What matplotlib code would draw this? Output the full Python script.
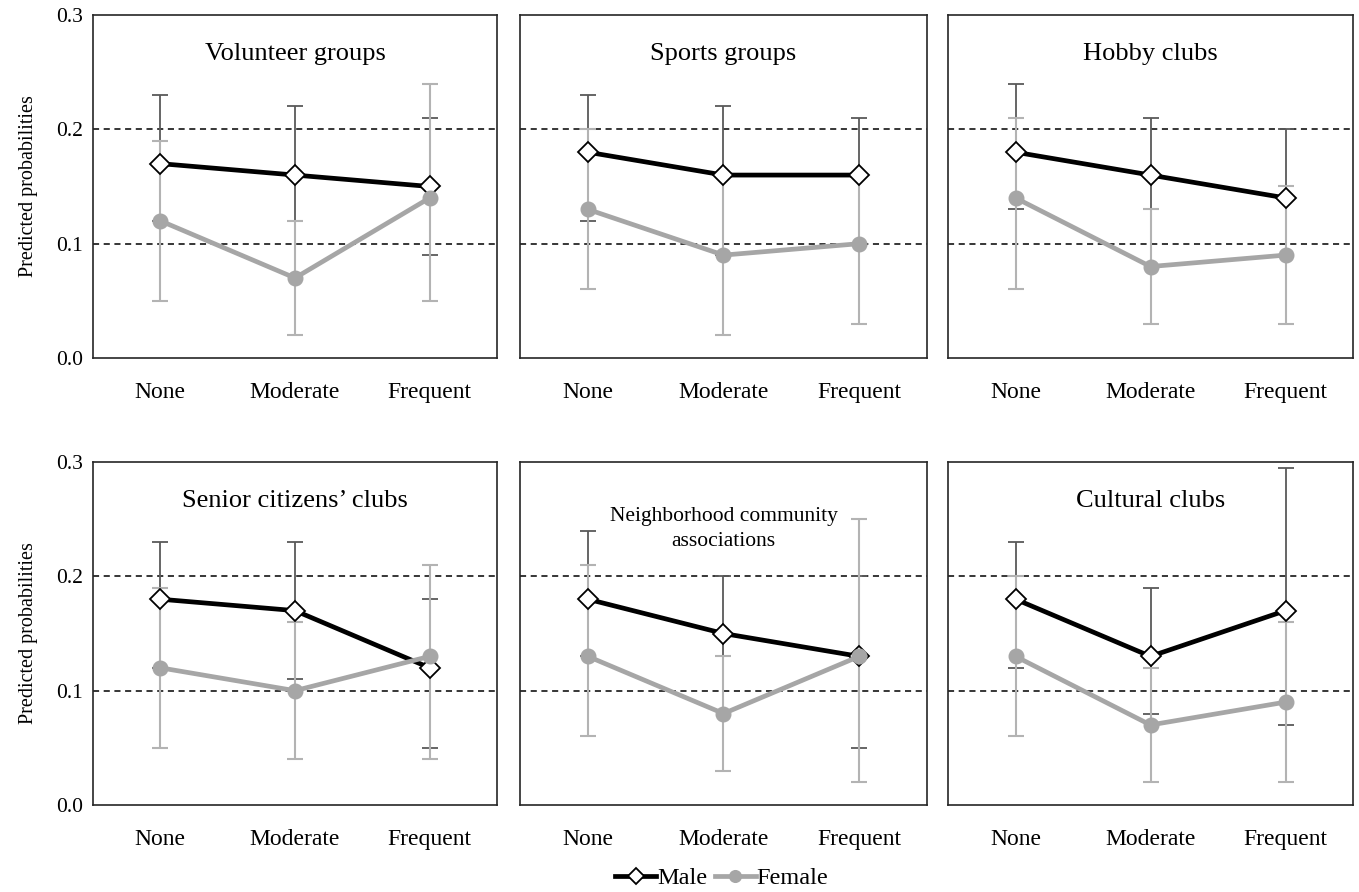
import matplotlib.pyplot as plt
import numpy as np

plt.rcParams['font.family'] = ['Liberation Serif', 'DejaVu Serif']

categories = ['None', 'Moderate', 'Frequent']
titles = ['Volunteer groups', 'Sports groups', 'Hobby clubs',
          'Senior citizens\u2019 clubs', 'Neighborhood community\nassociations', 'Cultural clubs']

# predicted probabilities and CI bounds, one row per panel
male = [[0.17, 0.16, 0.15], [0.18, 0.16, 0.16], [0.18, 0.16, 0.14],
        [0.18, 0.17, 0.12], [0.18, 0.15, 0.13], [0.18, 0.13, 0.17]]
male_lo = [[0.12, 0.12, 0.09], [0.12, 0.09, 0.10], [0.13, 0.13, 0.09],
           [0.12, 0.11, 0.05], [0.13, 0.13, 0.05], [0.12, 0.08, 0.07]]
male_hi = [[0.23, 0.22, 0.21], [0.23, 0.22, 0.21], [0.24, 0.21, 0.20],
           [0.23, 0.23, 0.18], [0.24, 0.20, 0.20], [0.23, 0.19, 0.295]]

female = [[0.12, 0.07, 0.14], [0.13, 0.09, 0.10], [0.14, 0.08, 0.09],
          [0.12, 0.10, 0.13], [0.13, 0.08, 0.13], [0.13, 0.07, 0.09]]
female_lo = [[0.05, 0.02, 0.05], [0.06, 0.02, 0.03], [0.06, 0.03, 0.03],
             [0.05, 0.04, 0.04], [0.06, 0.03, 0.02], [0.06, 0.02, 0.02]]
female_hi = [[0.19, 0.12, 0.24], [0.20, 0.16, 0.16], [0.21, 0.13, 0.15],
             [0.19, 0.16, 0.21], [0.21, 0.13, 0.25], [0.20, 0.12, 0.16]]

W, H = 1359, 892
fig = plt.figure(figsize=(W / 100, H / 100), dpi=100)

lefts = [93, 520, 948]
rights = [497, 927, 1353]
tops = [15, 462]
bottoms = [358, 805]

x = np.arange(3)
male_col = 'black'
female_col = '#a6a6a6'

for i in range(6):
    r, c = divmod(i, 3)
    ax = fig.add_axes([lefts[c] / W, 1 - bottoms[r] / H,
                       (rights[c] - lefts[c]) / W, (bottoms[r] - tops[r]) / H])

    m = np.array(male[i])
    f = np.array(female[i])
    ax.errorbar(x, m, yerr=[m - np.array(male_lo[i]), np.array(male_hi[i]) - m],
                fmt='none', ecolor='#595959', elinewidth=1.3, capsize=6, capthick=1.3, zorder=2)
    ax.errorbar(x, f, yerr=[f - np.array(female_lo[i]), np.array(female_hi[i]) - f],
                fmt='none', ecolor='#b3b3b3', elinewidth=1.5, capsize=6, capthick=1.5, zorder=3)
    ax.plot(x, m, color=male_col, lw=3.4, marker='D', ms=10, mfc='white', mec='black',
            mew=1.3, zorder=4, label='Male')
    ax.plot(x, f, color=female_col, lw=3.4, marker='o', ms=10.5, mfc=female_col, mec=female_col,
            zorder=5, label='Female')

    for yv in [0.1, 0.2]:
        ax.axhline(yv, color='black', lw=1.1, ls=(0, (4, 3)), zorder=1)

    ax.set_xlim(-0.5, 2.5)
    ax.set_ylim(0, 0.3)
    ax.set_xticks(x)
    ax.set_xticklabels(categories, fontsize=17)
    ax.tick_params(axis='both', length=0, pad=17)
    if c == 0:
        ax.set_yticks([0, 0.1, 0.2, 0.3])
        ax.set_yticklabels(['0.0', '0.1', '0.2', '0.3'], fontsize=15.5)
        ax.tick_params(axis='y', pad=7)
        ax.set_ylabel('Predicted probabilities', fontsize=14.5, labelpad=13)
    else:
        ax.set_yticks([])
    for s in ax.spines.values():
        s.set_color('#262626')
        s.set_linewidth(1.2)

    if '\n' in titles[i]:
        ax.text(0.5, 0.805, titles[i], transform=ax.transAxes, ha='center', va='center',
                fontsize=15.5, linespacing=1.4)
    else:
        ax.text(0.5, 0.885, titles[i], transform=ax.transAxes, ha='center', va='center',
                fontsize=19)

handles, labels = ax.get_legend_handles_labels()
leg = fig.legend(handles, labels, loc='center', bbox_to_anchor=(722 / W, 1 - 878 / H), ncol=2,
                 frameon=False, fontsize=17.5, handlelength=1.65, handletextpad=0.05,
                 columnspacing=0.35, markerscale=0.8)

fig.savefig('out.png', dpi=100)
